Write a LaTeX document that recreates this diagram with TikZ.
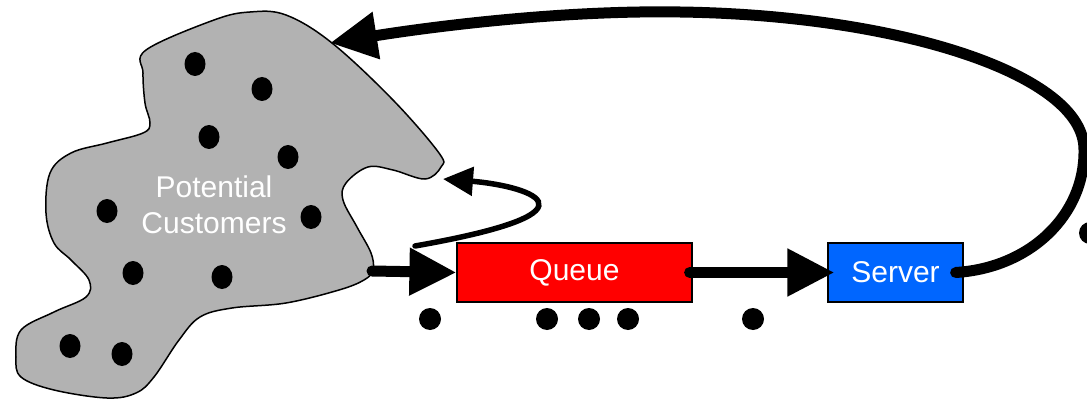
\documentclass[tikz,border=0pt]{standalone}
\usepackage{fontspec}
\setmainfont{Liberation Sans}
\usetikzlibrary{arrows.meta,shapes.geometric}

\definecolor{cloudgray}{RGB}{178,178,178}
\definecolor{queuered}{RGB}{255,0,0}
\definecolor{serverblue}{RGB}{0,102,255}

\begin{document}
\begin{tikzpicture}[x=1pt,y=-1pt,
    box/.style={draw=black, line width=1.2pt, inner sep=0pt, minimum height=59pt,
      text=white, font=\fontsize{30}{36}\selectfont},
    flow/.style={line width=11pt, line cap=round, -{Triangle[length=47pt,width=45pt]}},
    back/.style={line width=5.5pt, line cap=round, -{Triangle[length=30pt,width=28pt]}},
    dot/.style={ellipse, fill=black, inner sep=0pt, minimum width=21pt, minimum height=24pt},
    qdot/.style={circle, fill=black, inner sep=0pt, minimum size=22pt}]
  \useasboundingbox (0,0) rectangle (1087,401);

  % the pool of potential customers
  \draw[fill=cloudgray, line width=1.5pt] plot[smooth cycle, tension=0.6] coordinates {
    (146,50) (214,20) (250,12) (286,15) (332,43) (393,100) (439,153) (441,167)
    (425,179) (393,170) (368,167) (346,183) (343,200) (357,227) (371,253)
    (373,270) (364,280) (339,290) (286,303) (232,308) (200,317) (179,340)
    (154,377) (136,393) (107,398) (54,390) (21,377) (16,357) (21,330) (54,312)
    (86,297) (89,280) (71,260) (54,243) (46,213) (50,173) (71,153) (107,143)
    (143,133) (150,123) (145,103) (143,73)};
  \node[align=center, text=white, font=\fontsize{30}{36}\selectfont] (pool) at (214,205)
    {Potential\\Customers};

  \foreach \x/\y [count=\i] in {195/64, 262/89, 209/137, 288/157, 107/211,
      311/217, 133/273, 222/277, 70/346, 122/354} {
    \node[dot] (c-\i) at (\x,\y) {};
  }

  \coordinate (pool-out) at (372,271);
  \coordinate (pool-in) at (330,43);
  \coordinate (pool-back) at (443,179);
  \coordinate (balk) at (415,246);

  \node[box, fill=queuered, minimum width=235pt] (queue) at (574.5,272.5) {Queue};
  \node[box, fill=serverblue, minimum width=135pt] (server) at (895.5,272.5) {Server};

  % customers waiting
  \foreach \x [count=\i] in {430, 547, 589, 628, 753} {
    \node[qdot] (w-\i) at (\x,319) {};
  }
  \node[qdot] (w-6) at (1090,233) {};

  \draw[flow] (pool-out) -- (queue.west);
  \draw[flow] ([xshift=-3pt]queue.east) -- ([xshift=7pt]server.west);
  \draw[flow] ([xshift=-8pt]server.east) .. controls (1030,268) and (1085,215) .. (1084,150)
    .. controls (1085,75) and (900,15) .. (680,12)
    .. controls (560,10) and (430,27) .. (pool-in);
  \draw[back] (balk) .. controls (620,210) and (520,185) .. (pool-back);

\end{tikzpicture}
\end{document}
